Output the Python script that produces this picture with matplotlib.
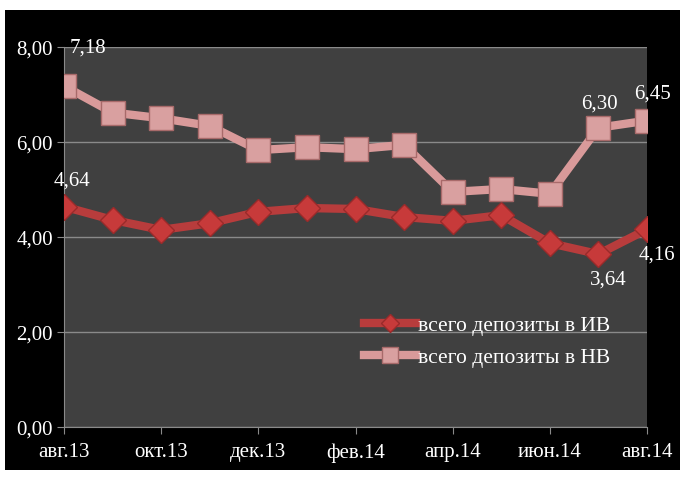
import matplotlib
matplotlib.use("Agg")
import matplotlib.pyplot as plt
from matplotlib.patches import Rectangle

months = ["авг.13", "сен.13", "окт.13", "ноя.13", "дек.13", "янв.14", "фев.14",
          "мар.14", "апр.14", "май.14", "июн.14", "июл.14", "авг.14"]
iv = [4.64, 4.36, 4.15, 4.29, 4.53, 4.61, 4.59, 4.42, 4.34, 4.46, 3.87, 3.64, 4.16]
nv = [7.18, 6.62, 6.50, 6.34, 5.83, 5.89, 5.85, 5.94, 4.95, 5.01, 4.91, 6.30, 6.45]
name_iv = "всего депозиты в ИВ"
name_nv = "всего депозиты в НВ"
yticks = [0, 2, 4, 6, 8]

plt.rcParams['font.family'] = ['Liberation Serif', 'DejaVu Serif']

fig = plt.figure(figsize=(6.8, 4.81), dpi=100)
fig.patch.set_facecolor("white")
fig.add_artist(Rectangle((5/680, 10/481), 675/680, 460/481, transform=fig.transFigure,
                         facecolor="black", edgecolor="none", zorder=0))

ax = fig.add_axes([64/680, 53/481, 583/680, 380/481])
ax.set_facecolor("#404040")
x = list(range(len(months)))

ax.plot(x, iv, color="#b83c3c", lw=6, marker="D", markersize=13,
        markerfacecolor="#c73a3a", markeredgecolor="#9a2a2a", markeredgewidth=1,
        label=name_iv, zorder=3, solid_joinstyle="round")
ax.plot(x, nv, color="#d99a9a", lw=6, marker="s", markersize=17,
        markerfacecolor="#d9a0a0", markeredgecolor="#a86a6a", markeredgewidth=1,
        label=name_nv, zorder=3, solid_joinstyle="round")

ax.set_xlim(0, len(months) - 1)
ax.set_ylim(0, 8)
ax.set_yticks(yticks)
ax.set_yticklabels([f"{v:.2f}".replace(".", ",") for v in yticks])
ax.set_xticks(x[::2])
ax.set_xticklabels(months[::2])
ax.grid(axis="y", color="#8a8a8a", lw=1)
ax.set_axisbelow(True)
for s in ["top", "right"]:
    ax.spines[s].set_visible(False)
for s in ["left", "bottom"]:
    ax.spines[s].set_color("#8a8a8a")
ax.tick_params(colors="#8a8a8a", labelcolor="white", labelsize=15, length=5, direction="out")
ax.tick_params(axis="x", pad=6)
ax.tick_params(axis="y", pad=3)

def lab(i, vals, dx, dy, ha="center"):
    ax.annotate(f"{vals[i]:.2f}".replace(".", ","), (x[i], vals[i]), xytext=(dx, dy),
                textcoords="offset points", color="white", fontsize=15, ha=ha, va="center",
                annotation_clip=False)

lab(0, nv, 17, 28)
lab(0, iv, 6, 19)
lab(11, nv, 1, 18)
lab(12, nv, 4, 20)
lab(11, iv, 7, -18)
lab(12, iv, 7, -18)

leg = ax.legend(loc="lower right", bbox_to_anchor=(0.952, 0.135), frameon=False,
                fontsize=15.5, labelcolor="white", handlelength=2.4, handletextpad=0.1,
                borderaxespad=0, labelspacing=0.55, markerscale=0.7)

fig.savefig("out.png", dpi=100)
